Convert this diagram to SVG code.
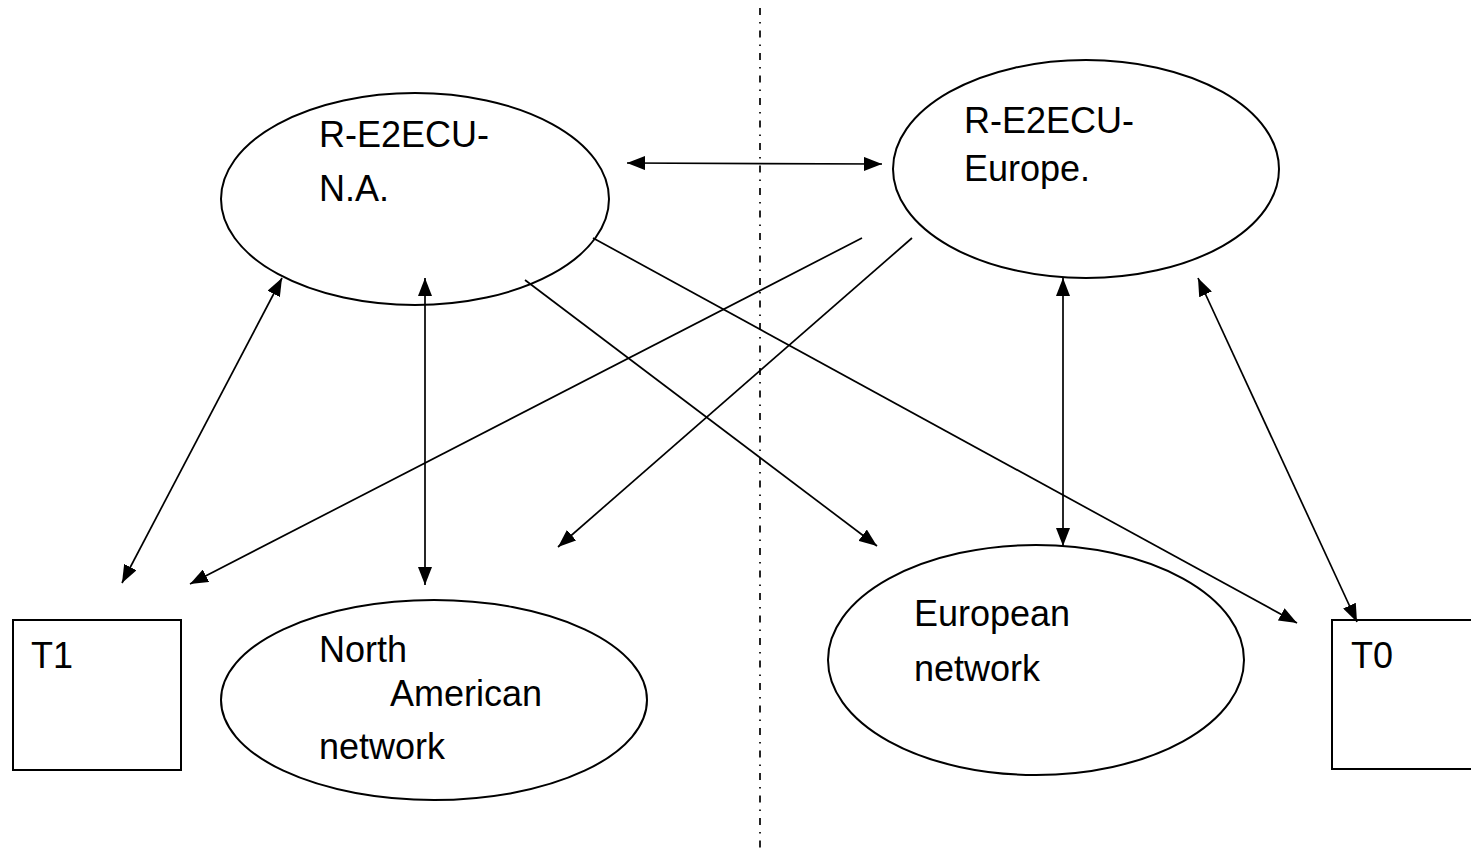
<svg xmlns="http://www.w3.org/2000/svg" width="1471" height="852" viewBox="0 0 1471 852">
<style>
.shape{fill:none;stroke:#000;stroke-width:2}
.conn{fill:none;stroke:#000;stroke-width:1.7}
.lbl{font-family:"Liberation Sans",Arial,sans-serif;font-size:36px;fill:#000}
.divider{stroke:#000;stroke-width:1.7;stroke-dasharray:7 7 1.5 7;fill:none}
</style>
<defs>
<marker id="ah" viewBox="0 0 18 14" refX="18" refY="7" markerWidth="18" markerHeight="14" markerUnits="userSpaceOnUse" orient="auto-start-reverse">
<path d="M0,0 L18,7 L0,14 Z" fill="#000"/>
</marker>
</defs>
<rect width="1471" height="852" fill="#fff"/>
<line class="divider" x1="760" y1="8" x2="760" y2="852"/>
<g id="node-na">
<ellipse class="shape" cx="415" cy="199" rx="194" ry="106"/>
<text class="lbl" x="319" y="147">R-E2ECU-</text>
<text class="lbl" x="319" y="201">N.A.</text>
</g>
<g id="node-eu">
<ellipse class="shape" cx="1086" cy="169" rx="193" ry="109"/>
<text class="lbl" x="964" y="133">R-E2ECU-</text>
<text class="lbl" x="964" y="181">Europe.</text>
</g>
<g id="node-nan">
<ellipse class="shape" cx="434" cy="700" rx="213" ry="100"/>
<text class="lbl" x="319" y="662">North</text>
<text class="lbl" x="390" y="706">American</text>
<text class="lbl" x="319" y="759">network</text>
</g>
<g id="node-eun">
<ellipse class="shape" cx="1036" cy="660" rx="208" ry="115"/>
<text class="lbl" x="914" y="626">European</text>
<text class="lbl" x="914" y="681">network</text>
</g>
<g id="node-t1">
<rect class="shape" x="13" y="620" width="168" height="150"/>
<text class="lbl" x="31" y="668">T1</text>
</g>
<g id="node-t0">
<rect class="shape" x="1332" y="620" width="160" height="149"/>
<text class="lbl" x="1351" y="668">T0</text>
</g>
<g id="connectors">
<line class="conn" x1="627" y1="163" x2="882" y2="164" marker-start="url(#ah)" marker-end="url(#ah)"/>
<line class="conn" x1="122" y1="583" x2="282" y2="278" marker-start="url(#ah)" marker-end="url(#ah)"/>
<line class="conn" x1="862" y1="238" x2="190" y2="584" marker-end="url(#ah)"/>
<line class="conn" x1="425" y1="278" x2="425" y2="585" marker-start="url(#ah)" marker-end="url(#ah)"/>
<line class="conn" x1="912" y1="238" x2="558" y2="547" marker-end="url(#ah)"/>
<line class="conn" x1="525" y1="280" x2="877" y2="546" marker-end="url(#ah)"/>
<line class="conn" x1="593" y1="238" x2="1297" y2="623" marker-end="url(#ah)"/>
<line class="conn" x1="1063" y1="278" x2="1063" y2="546" marker-start="url(#ah)" marker-end="url(#ah)"/>
<line class="conn" x1="1198" y1="278" x2="1357" y2="622" marker-start="url(#ah)" marker-end="url(#ah)"/>
</g>
</svg>
